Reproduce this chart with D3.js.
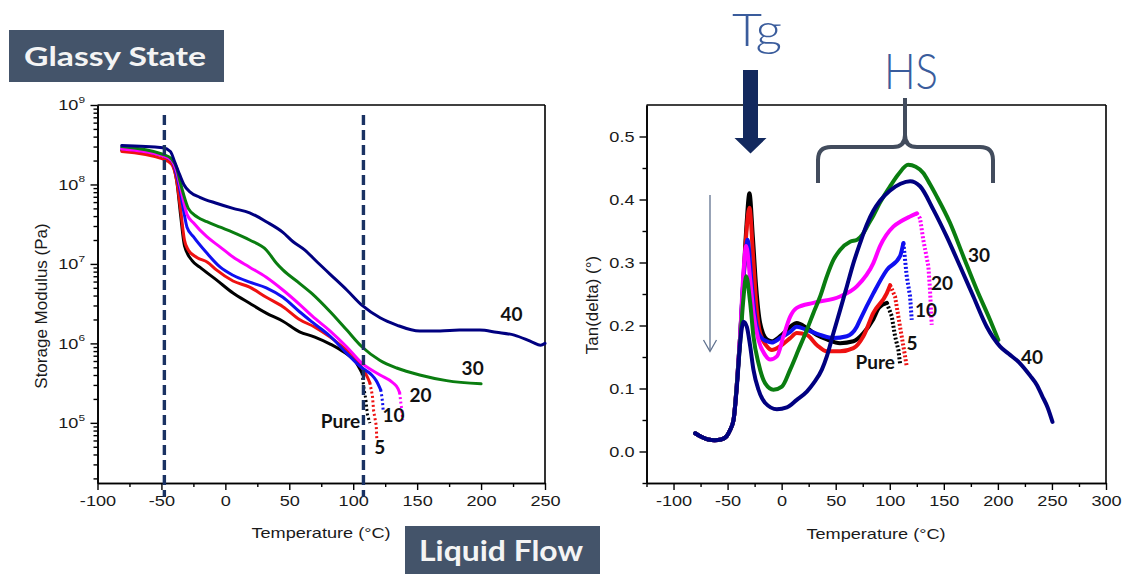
<!DOCTYPE html>
<html>
<head>
<meta charset="utf-8">
<script src="https://cdn.jsdelivr.net/npm/d3@7"></script>
<style>
  html, body { margin: 0; padding: 0; background: #fff; }
  svg { display: block; }
</style>
</head>
<body>
<svg id="chart" width="1123" height="574"></svg>
<script>
// ---------- Storage modulus (Pa) vs temperature (°C) ----------
const modTempPure = [-81, -59, -49, -42, -38, -35, -32, -26, -20, -7, 6, 19, 32, 45, 58, 70, 82, 93, 102, 107, 108, 110, 111, 113];
const modPure     = [2.7e8, 2.5e8, 2.3e8, 1.9e8, 1.1e8, 4.1e7, 1.7e7, 1.1e7, 9.1e6, 6.3e6, 4.3e6, 3.2e6, 2.4e6, 1.9e6, 1.4e6, 1.2e6, 9.8e5, 7.7e5, 5.8e5, 4.2e5, 3.0e5, 1.9e5, 1.3e5, 9.9e4];

const modTemp5 = [-81, -49, -42, -38, -35, -32, -29, -22, -14, -7, 6, 19, 32, 45, 58, 70, 82, 93, 102, 107, 111, 113, 115, 116, 118, 118.5];
const mod5     = [2.6e8, 2.1e8, 1.8e8, 1.1e8, 4.8e7, 2.0e7, 1.5e7, 1.2e7, 1.05e7, 8.4e6, 6.1e6, 5.1e6, 3.8e6, 2.9e6, 2.0e6, 1.6e6, 1.2e6, 8.7e5, 6.5e5, 4.9e5, 3.8e5, 3.2e5, 2.2e5, 1.4e5, 9.3e4, 6.0e4];

const modTemp10 = [-81, -49, -42, -38, -35.5, -32, -30, -25, -14.5, -4, 6, 19, 32, 45, 58, 68, 82, 95, 107, 114.5, 118, 121.5, 122.3, 123, 123.4];
const mod10     = [2.9e8, 2.3e8, 2.0e8, 1.3e8, 8.5e7, 4.1e7, 2.9e7, 2.2e7, 1.37e7, 9.1e6, 7.2e6, 5.9e6, 5.0e6, 3.8e6, 2.5e6, 1.85e6, 1.23e6, 7.5e5, 4.9e5, 4.0e5, 3.4e5, 2.6e5, 2.2e5, 1.77e5, 1.44e5];

const modTemp20 = [-81, -49, -42, -38, -35.5, -32, -30, -25, -14.5, -4, 6, 19, 32, 45, 58, 68, 82, 95, 107, 121, 131, 135, 136.3, 137, 138, 138.7];
const mod20     = [2.8e8, 2.3e8, 2.0e8, 1.43e8, 9.8e7, 5.5e7, 4.2e7, 3.3e7, 2.2e7, 1.63e7, 1.22e7, 9.1e6, 6.8e6, 4.7e6, 3.1e6, 2.2e6, 1.43e6, 9.0e5, 5.6e5, 4.0e5, 3.2e5, 2.7e5, 2.4e5, 1.93e5, 1.44e5, 1.08e5];

const modTemp30 = [-81, -49, -42, -38, -35.5, -33, -29, -22, -14.5, -4, 6, 19, 32, 40, 45, 58, 68, 82, 95, 107, 121, 134, 152, 173, 200];
const mod30     = [3.0e8, 2.4e8, 2.1e8, 1.6e8, 1.1e8, 7.8e7, 5.0e7, 3.9e7, 3.4e7, 2.9e7, 2.5e7, 2.0e7, 1.5e7, 1.02e7, 8.4e6, 5.7e6, 4.2e6, 2.5e6, 1.47e6, 9.0e5, 6.1e5, 4.9e5, 4.0e5, 3.4e5, 3.1e5];

const modTemp40 = [-81, -49, -43, -39.5, -35.5, -32.5, -27.5, -20, -7, 6, 19, 32, 45, 53, 62, 72, 82, 95, 107, 121, 134, 152, 168, 183, 199, 212, 226, 240, 246.5, 250];
const mod40     = [3.1e8, 2.9e8, 2.6e8, 1.9e8, 1.3e8, 1.0e8, 8.0e7, 6.9e7, 5.8e7, 5.0e7, 4.4e7, 3.4e7, 2.5e7, 1.9e7, 1.5e7, 1.05e7, 7.4e6, 4.7e6, 3.0e6, 2.1e6, 1.7e6, 1.43e6, 1.43e6, 1.47e6, 1.47e6, 1.38e6, 1.27e6, 1.04e6, 9.5e5, 1.0e6];

// ---------- Tan(delta) vs temperature (°C) ----------
const tanTempPure = [-80, -74, -68, -62, -56, -51, -48, -44.5, -41.5, -38.5, -35.5, -32.5, -29.8, -26.6, -23.6, -19.9, -13.7, -9.1, -1.4, 7.9, 14, 23.3, 32.5, 41.8, 54, 66.4, 75.6, 84.8, 90, 97.2, 101.8, 104.9, 108, 109.5];
const tanPure     = [0.029, 0.023, 0.019, 0.018, 0.019, 0.024, 0.033, 0.05, 0.105, 0.18, 0.27, 0.36, 0.41, 0.34, 0.262, 0.204, 0.178, 0.175, 0.183, 0.198, 0.204, 0.196, 0.185, 0.178, 0.172, 0.175, 0.188, 0.21, 0.228, 0.236, 0.215, 0.183, 0.161, 0.14];

const tanTemp5 = [-80, -74, -68, -62, -56, -51, -48, -44.5, -41.5, -38.5, -35.5, -32.5, -29.8, -26.6, -23.6, -19.9, -13.7, -9.1, -1.4, 7.9, 14, 23.3, 32.5, 41.8, 54, 66.4, 75.6, 84.8, 97.2, 100.3, 104.9, 109.5, 112.6, 115.7];
const tan5     = [0.029, 0.023, 0.019, 0.018, 0.019, 0.024, 0.033, 0.05, 0.105, 0.18, 0.26, 0.35, 0.387, 0.315, 0.236, 0.188, 0.167, 0.161, 0.167, 0.18, 0.188, 0.185, 0.169, 0.159, 0.159, 0.164, 0.183, 0.22, 0.251, 0.264, 0.246, 0.198, 0.167, 0.135];

const tanTemp10 = [-80, -74, -68, -62, -56, -51, -48, -44.5, -41.5, -38.5, -35.5, -33, -31.6, -27.5, -24.5, -19.9, -13.7, -9.1, -1.4, 7.9, 14, 23.3, 35.6, 47.9, 60.3, 69.5, 72.5, 84.8, 97.2, 109.5, 112.6, 115.7, 118.8, 120.3];
const tan10     = [0.029, 0.023, 0.019, 0.018, 0.019, 0.024, 0.033, 0.05, 0.105, 0.18, 0.27, 0.32, 0.336, 0.262, 0.214, 0.183, 0.175, 0.173, 0.18, 0.19, 0.198, 0.193, 0.185, 0.18, 0.183, 0.198, 0.209, 0.251, 0.288, 0.31, 0.331, 0.278, 0.246, 0.209];

const tanTemp20 = [-80, -74, -68, -62, -56, -51, -48, -44.5, -41.5, -38.5, -35.5, -32.8, -29.1, -26.1, -21.4, -15.2, -10.6, -4.4, 1.7, 7.9, 14, 29.4, 54, 69.5, 84.8, 91, 103.3, 110, 118.8, 125, 128, 131, 135.7, 137.2, 138.8];
const tan20     = [0.029, 0.023, 0.019, 0.018, 0.019, 0.024, 0.033, 0.05, 0.105, 0.18, 0.28, 0.326, 0.273, 0.22, 0.177, 0.153, 0.146, 0.151, 0.183, 0.214, 0.228, 0.236, 0.246, 0.262, 0.299, 0.326, 0.357, 0.365, 0.373, 0.378, 0.37, 0.336, 0.294, 0.257, 0.201];

const tanTemp30 = [-80, -74, -68, -62, -56, -51, -48, -44.5, -41.5, -38.5, -35.5, -32.8, -29.1, -26.1, -21.4, -15.2, -7.6, 0.2, 7.9, 15.5, 23.3, 29.4, 35.6, 41.8, 47.9, 54, 63.3, 69.8, 75, 80, 85, 91, 100, 108, 117, 124, 131, 137, 143.4, 155.7, 168, 180.4, 192.7, 200.4];
const tan30     = [0.029, 0.023, 0.019, 0.018, 0.019, 0.024, 0.033, 0.05, 0.105, 0.17, 0.24, 0.278, 0.236, 0.183, 0.14, 0.108, 0.098, 0.103, 0.13, 0.161, 0.193, 0.22, 0.246, 0.278, 0.304, 0.32, 0.333, 0.336, 0.345, 0.36, 0.375, 0.395, 0.42, 0.44, 0.455, 0.452, 0.442, 0.425, 0.405, 0.363, 0.31, 0.257, 0.209, 0.177];

const tanTemp40 = [-80, -74, -68, -62, -56, -51, -48, -44.5, -41.4, -38.4, -35.3, -32.2, -29.1, -26.1, -21.4, -15.2, -4.4, 4.8, 14, 23.3, 29.4, 37.2, 41.8, 47.9, 54, 60.3, 66.4, 72.6, 78.7, 84.8, 91, 100, 110, 118.8, 128, 140.3, 152.7, 165, 177.3, 189.7, 201.9, 210, 220.4, 230, 235.9, 241, 246, 250.5];
const tan40     = [0.029, 0.023, 0.019, 0.018, 0.019, 0.024, 0.033, 0.05, 0.103, 0.172, 0.206, 0.198, 0.167, 0.13, 0.098, 0.077, 0.067, 0.07, 0.082, 0.095, 0.108, 0.13, 0.151, 0.188, 0.224, 0.262, 0.299, 0.331, 0.36, 0.382, 0.398, 0.414, 0.425, 0.429, 0.421, 0.384, 0.341, 0.294, 0.246, 0.198, 0.167, 0.155, 0.14, 0.12, 0.106, 0.088, 0.07, 0.047];

// Series names, colours and the temperature where sparse (dotted) points begin
const seriesNames  = ["Pure", "5", "10", "20", "30", "40"];
const seriesColors = ["#000000", "#ee1111", "#1010f0", "#ff00ff", "#0a7d10", "#000080"];
const modDotFrom   = [107, 113, 121.5, 136.3, Infinity, Infinity];
const tanDotFrom   = [97.2, 100.3, 112.6, 125, Infinity, Infinity];

// Axis ticks
const modXTicks = [-100, -50, 0, 50, 100, 150, 200, 250];
const modYTicks = [1e5, 1e6, 1e7, 1e8, 1e9];
const tanXTicks = [-100, -50, 0, 50, 100, 150, 200, 250, 300];
const tanYTicks = [0.0, 0.1, 0.2, 0.3, 0.4, 0.5];

// Transition markers (°C) on the modulus plot
const transitionTemps = [-47.7, 108];

// Curve labels, placed at [T, value]
const modLabelPos = [[90, 1.05e5], [120.7, 4.9e4], [131.6, 1.25e5], [152.7, 2.2e5], [193.4, 4.9e5], [223.8, 2.3e6]];
const tanLabelPos = [[86.5, 0.142], [120.6, 0.172], [133.5, 0.225], [148.3, 0.268], [182.5, 0.312], [231.5, 0.15]];

// ---------- drawing ----------
const svg = d3.select("#chart");
const FONT = '"Liberation Sans", Arial, sans-serif';
const LABEL_FONT = 'Lato, "Open Sans", sans-serif';
const plotTop = 105, plotBottom = 483;
const TICK_FONT = 14.5, WIDEN = 1.25;   // tick text is drawn slightly widened

const modSeries = [
  [modTempPure, modPure], [modTemp5, mod5], [modTemp10, mod10],
  [modTemp20, mod20], [modTemp30, mod30], [modTemp40, mod40]
];
const tanSeries = [
  [tanTempPure, tanPure], [tanTemp5, tan5], [tanTemp10, tan10],
  [tanTemp20, tan20], [tanTemp30, tan30], [tanTemp40, tan40]
];

function range(a, b, step) {
  const out = [];
  for (let v = a; v <= b + 1e-9; v += step) out.push(+v.toFixed(4));
  return out;
}

function drawSeries(g, x, y, series, dotFrom, width, dash) {
  const line = d3.line().x(d => x(d[0])).y(d => y(d[1])).curve(d3.curveMonotoneX);
  series.forEach(([ts, vs], i) => {
    const pts = ts.map((t, k) => [t, vs[k]]);
    const solid = pts.filter(p => p[0] <= dotFrom[i]);
    const dotted = pts.filter(p => p[0] >= dotFrom[i]);
    g.append("path").attr("d", line(solid))
      .attr("fill", "none").attr("stroke", seriesColors[i])
      .attr("stroke-width", width).attr("stroke-linejoin", "round").attr("stroke-linecap", "round");
    if (dotted.length > 1) {
      g.append("path").attr("d", d3.line().x(d => x(d[0])).y(d => y(d[1]))(dotted))
        .attr("fill", "none").attr("stroke", seriesColors[i])
        .attr("stroke-width", width).attr("stroke-dasharray", dash).attr("stroke-linecap", "butt");
    }
  });
}

function styleAxis(g) {
  g.select(".domain").attr("stroke", "#000").attr("stroke-width", 1.6);
  g.selectAll(".tick line").attr("stroke", "#000").attr("stroke-width", 1.4);
  g.selectAll(".tick text").attr("font-size", TICK_FONT).attr("fill", "#1a1a1a")
    .attr("font-family", FONT).attr("transform", `scale(${WIDEN},1)`);
}

function axisTitle(g, x, y, label, rotate) {
  const t = g.append("text").attr("text-anchor", "middle")
    .attr("font-family", FONT).attr("fill", "#1a1a1a").text(label);
  if (rotate) {
    t.attr("transform", `translate(${x},${y}) rotate(-90)`).attr("font-size", 17);
  } else {
    t.attr("transform", `translate(${x},${y}) scale(${WIDEN},1)`).attr("font-size", 14.5);
  }
}

// ===== Left panel: storage modulus =====
const xL = d3.scaleLinear().domain([-100, 250]).range([97.5, 545]);
const yL = d3.scaleLog().domain([1.75e4, 1e9]).range([plotBottom, plotTop]);
const left = svg.append("g");

// minor ticks
left.append("g").attr("transform", `translate(0,${plotBottom})`)
  .call(d3.axisBottom(xL).tickValues(range(-75, 225, 50)).tickSize(4).tickSizeOuter(0).tickFormat(""))
  .call(styleAxis);
const minorLog = [];
[4, 5, 6, 7, 8].forEach(e => { for (let m = 2; m <= 9; m++) { const v = m * Math.pow(10, e); if (v >= 1.75e4) minorLog.push(v); } });
left.append("g").attr("transform", `translate(${xL(-100)},0)`)
  .call(d3.axisLeft(yL).tickValues(minorLog).tickSize(4).tickSizeOuter(0).tickFormat(""))
  .call(styleAxis);

// major ticks
left.append("g").attr("transform", `translate(0,${plotBottom})`)
  .call(d3.axisBottom(xL).tickValues(modXTicks).tickSize(7).tickPadding(6).tickSizeOuter(0).tickFormat(d => String(d)))
  .call(styleAxis);
left.append("g").attr("transform", `translate(${xL(-100)},0)`)
  .call(d3.axisLeft(yL).tickValues(modYTicks).tickSize(7).tickPadding(3).tickSizeOuter(0).tickFormat(() => "10"))
  .call(styleAxis)
  .call(g => g.selectAll(".tick text").each(function (d) {
    d3.select(this).append("tspan").attr("dy", "-0.75em").attr("font-size", 9.5).text(Math.round(Math.log10(d)));
  }));

// frame: top and right edges
left.append("line").attr("x1", xL(-100)).attr("x2", xL(250)).attr("y1", plotTop).attr("y2", plotTop).attr("stroke", "#000").attr("stroke-width", 1.6);
left.append("line").attr("x1", xL(250)).attr("x2", xL(250)).attr("y1", plotTop).attr("y2", plotBottom).attr("stroke", "#000").attr("stroke-width", 1.6);

drawSeries(left, xL, yL, modSeries, modDotFrom, 3, "2,2.5");

// transition markers
transitionTemps.forEach(t => {
  left.append("line").attr("x1", xL(t)).attr("x2", xL(t)).attr("y1", 115).attr("y2", 497)
    .attr("stroke", "#1a3263").attr("stroke-width", 3.4).attr("stroke-dasharray", "10,5");
});

axisTitle(left, 321, 538, "Temperature (°C)", false);
axisTitle(left, 47, 306, "Storage Modulus (Pa)", true);

// curve labels
modLabelPos.forEach((p, i) => {
  left.append("text").attr("x", xL(p[0])).attr("y", yL(p[1])).attr("dy", "0.36em").attr("text-anchor", "middle")
    .attr("font-family", LABEL_FONT).attr("font-weight", 700).attr("font-size", 19).attr("fill", "#111").text(seriesNames[i]);
});

// ===== Right panel: tan(delta) =====
const xR = d3.scaleLinear().domain([-125, 300]).range([646.5, 1106]);
const yR = d3.scaleLinear().domain([-0.05, 0.55]).range([plotBottom, plotTop]);
const right = svg.append("g");

right.append("g").attr("transform", `translate(0,${plotBottom})`)
  .call(d3.axisBottom(xR).tickValues(range(-125, 275, 50)).tickSize(4).tickSizeOuter(0).tickFormat(""))
  .call(styleAxis);
right.append("g").attr("transform", `translate(${xR(-125)},0)`)
  .call(d3.axisLeft(yR).tickValues(range(-0.05, 0.45, 0.1)).tickSize(4).tickSizeOuter(0).tickFormat(""))
  .call(styleAxis);

right.append("g").attr("transform", `translate(0,${plotBottom})`)
  .call(d3.axisBottom(xR).tickValues(tanXTicks).tickSize(7).tickPadding(6).tickSizeOuter(0).tickFormat(d => String(d)))
  .call(styleAxis);
right.append("g").attr("transform", `translate(${xR(-125)},0)`)
  .call(d3.axisLeft(yR).tickValues(tanYTicks).tickSize(7).tickPadding(2.6).tickSizeOuter(0).tickFormat(d3.format(".1f")))
  .call(styleAxis);

right.append("line").attr("x1", xR(-125)).attr("x2", xR(300)).attr("y1", plotTop).attr("y2", plotTop).attr("stroke", "#000").attr("stroke-width", 1.6);
right.append("line").attr("x1", xR(300)).attr("x2", xR(300)).attr("y1", plotTop).attr("y2", plotBottom).attr("stroke", "#000").attr("stroke-width", 1.6);

drawSeries(right, xR, yR, tanSeries, tanDotFrom, 4, "2,2");

axisTitle(right, 876, 539, "Temperature (°C)", false);
axisTitle(right, 598, 305, "Tan(delta) (°)", true);

tanLabelPos.forEach((p, i) => {
  right.append("text").attr("x", xR(p[0])).attr("y", yR(p[1])).attr("dy", "0.36em").attr("text-anchor", "middle")
    .attr("font-family", LABEL_FONT).attr("font-weight", 700).attr("font-size", 19).attr("fill", "#111").text(seriesNames[i]);
});

// thin downward arrow marking the drop of the Tg peak
right.append("line").attr("x1", 710).attr("x2", 710).attr("y1", 195).attr("y2", 351)
  .attr("stroke", "#60728f").attr("stroke-width", 1.3);
right.append("polyline").attr("points", "703.5,340 710,351.5 716.5,340")
  .attr("fill", "none").attr("stroke", "#60728f").attr("stroke-width", 1.3);

// ===== Annotations =====
// Tg label with bold arrow
svg.append("text").attr("x", 757).attr("y", 46).attr("text-anchor", "middle")
  .attr("font-family", LABEL_FONT).attr("font-weight", 300).attr("font-size", 46)
  .attr("textLength", 50).attr("lengthAdjust", "spacingAndGlyphs")
  .attr("fill", "#3a5c9c").text("Tg");
svg.append("polygon").attr("points", "743,70 758,70 758,138 766.5,138 750.5,153.5 734.5,138 743,138")
  .attr("fill", "#13295e");

// HS label with curly bracket
svg.append("text").attr("x", 911).attr("y", 89).attr("text-anchor", "middle")
  .attr("font-family", LABEL_FONT).attr("font-weight", 300).attr("font-size", 49)
  .attr("textLength", 54).attr("lengthAdjust", "spacingAndGlyphs")
  .attr("fill", "#3a5c9c").text("HS");
svg.append("path")
  .attr("d", "M818,183 L818,160 Q818,147 831,147 L893,147 Q905,147 905,135 L905,98 M905,135 Q905,147 917,147 L980,147 Q993,147 993,160 L993,183")
  .attr("fill", "none").attr("stroke", "#424c5d").attr("stroke-width", 4).attr("stroke-linejoin", "round");

// state boxes
function stateBox(x, y, w, h, label, tx, ty, size, len) {
  svg.append("rect").attr("x", x).attr("y", y).attr("width", w).attr("height", h).attr("fill", "#44546a");
  svg.append("text").attr("x", tx).attr("y", ty).attr("text-anchor", "middle")
    .attr("font-family", LABEL_FONT).attr("font-weight", 700).attr("font-size", size)
    .attr("textLength", len).attr("lengthAdjust", "spacingAndGlyphs")
    .attr("fill", "#f4f4f4").text(label);
}
stateBox(9, 30, 215, 52, "Glassy State", 115, 65.5, 27, 182);
stateBox(405, 526, 195, 48, "Liquid Flow", 501, 561, 28, 164);
</script>
</body>
</html>
